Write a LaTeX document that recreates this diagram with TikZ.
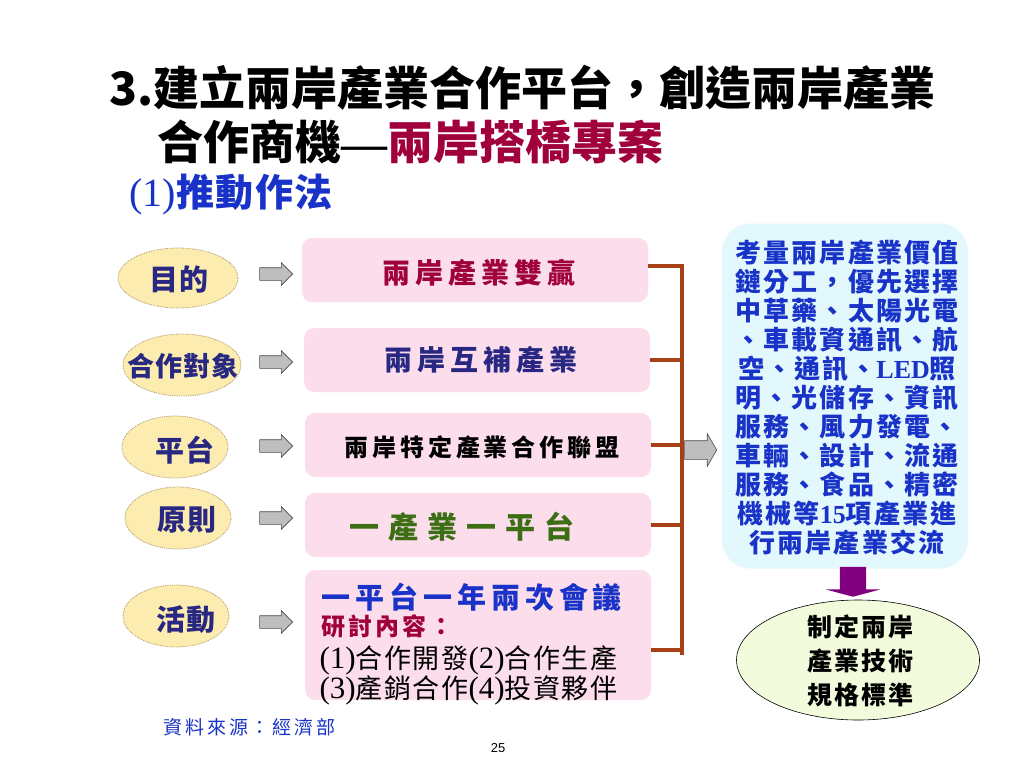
\documentclass[tikz,border=0pt]{standalone}
\usepackage{fontspec}
\usepackage{tikz}
\usetikzlibrary{shapes.geometric,shapes.arrows}
\newfontfamily\cjk{Noto Sans CJK TC}
\newfontfamily\lat{Liberation Serif}
\newfontfamily\pagefont{Liberation Sans}
\definecolor{titlered}{RGB}{160,0,60}
\definecolor{navytxt}{RGB}{40,40,130}
\definecolor{bluetxt}{RGB}{25,50,200}
\definecolor{greentxt}{RGB}{60,110,20}
\definecolor{pinkfill}{RGB}{252,221,236}
\definecolor{ovalfill}{RGB}{253,236,176}
\definecolor{ovalline}{RGB}{170,150,100}
\definecolor{cyanfill}{RGB}{226,248,252}
\definecolor{greenfill}{RGB}{242,252,220}
\definecolor{busbrown}{RGB}{165,65,20}
\definecolor{arrowgray}{RGB}{190,190,190}
\definecolor{purplearrow}{RGB}{128,0,128}

\begin{document}
\begin{tikzpicture}[x=1pt,y=-1pt,
    oval/.style={ellipse,draw=ovalline,densely dotted,line width=0.8pt,fill=ovalfill},
    ovaltext/.style={text=navytxt,font=\cjk\bfseries\fontsize{29}{30}\selectfont\addfontfeature{LetterSpace=2}},
    pinkbox/.style={rounded corners=10pt,fill=pinkfill,minimum width=346pt,minimum height=64pt,inner sep=0pt},
    grayarrow/.style={single arrow,draw=gray!60!black,fill=arrowgray,line width=0.6pt,inner sep=6pt,minimum height=33pt,single arrow head extend=5pt},
    busline/.style={draw=busbrown,line width=3.5pt}]
        \fill [white] (0,0) rectangle (1024,768);
        \useasboundingbox (0,0) rectangle (1024,768);

        % title
        \node [anchor=west,font=\cjk\bfseries\fontsize{46}{50}\selectfont] (title1) at(106,88) {3.建立兩岸產業合作平台，創造兩岸產業};
        \node [anchor=west,font=\cjk\bfseries\fontsize{46}{50}\selectfont] (title2) at(154,142) {合作商機{\lat —}\textcolor{titlered}{兩岸搭橋專案}};
        \node [anchor=west,text=bluetxt,font=\cjk\bfseries\fontsize{38}{40}\selectfont\addfontfeature{LetterSpace=4}] (title3) at(126,195) {{\lat\mdseries\fontsize{40}{40}\selectfont (1)}推動作法};

        % left ovals
        \node [oval,minimum width=120pt,minimum height=60pt] (aim) at(178,278) {};
        \node [oval,minimum width=118pt,minimum height=62pt] (partner) at(182,365) {};
        \node [oval,minimum width=106pt,minimum height=62pt] (platform) at(175,447) {};
        \node [oval,minimum width=106pt,minimum height=62pt] (rule) at(178,518) {};
        \node [oval,minimum width=106pt,minimum height=62pt] (event) at(176,616) {};
        \node [ovaltext] at(179,279) {目的};
        \node [ovaltext,font=\cjk\bfseries\fontsize{27}{30}\selectfont\addfontfeature{LetterSpace=3}] at(183,366) {合作對象};
        \node [ovaltext] at(185,450) {平台};
        \node [ovaltext] at(187,520) {原則};
        \node [ovaltext] at(186,620) {活動};

        % gray arrows
        \node [grayarrow] (a1) at(273,274) {};
        \node [grayarrow] (a2) at(273,362) {};
        \node [grayarrow] (a3) at(273,446) {};
        \node [grayarrow] (a4) at(273,518) {};
        \node [grayarrow] (a5) at(273,622) {};

        % pink boxes
        \node [pinkbox] (win) at(475,270) {};
        \node [pinkbox] (comp) at(477,360) {};
        \node [pinkbox] (alliance) at(478,445) {};
        \node [pinkbox] (one) at(478,525) {};
        \node [pinkbox,minimum height=130pt] (meet) at(478,635) {};
        \node [text=titlered,font=\cjk\bfseries\fontsize{28}{30}\selectfont\addfontfeature{LetterSpace=18}] at(479,273) {兩岸產業雙贏};
        \node [text=navytxt,font=\cjk\bfseries\fontsize{28}{30}\selectfont\addfontfeature{LetterSpace=18}] at(481,360) {兩岸互補產業};
        \node [font=\cjk\bfseries\fontsize{24}{30}\selectfont\addfontfeature{LetterSpace=16}] at(482,447) {兩岸特定產業合作聯盟};
        \node [text=greentxt,font=\cjk\bfseries\fontsize{30}{30}\selectfont\addfontfeature{LetterSpace=30}] at(462,527) {一產業一平台};
        \node [anchor=west,text=bluetxt,font=\cjk\bfseries\fontsize{29}{30}\selectfont\addfontfeature{LetterSpace=17}] (m1) at(318,597) {一平台一年兩次會議};
        \node [anchor=west,text=titlered,font=\cjk\bfseries\fontsize{24}{30}\selectfont\addfontfeature{LetterSpace=12}] (m2) at(318,626) {研討內容：};
        \node [anchor=west,font=\cjk\fontsize{27}{30}\selectfont\addfontfeature{LetterSpace=6}] (m3) at(316,660) {{\lat\fontsize{31}{30}\selectfont (1)}合作開發{\lat\fontsize{31}{30}\selectfont (2)}合作生產};
        \node [anchor=west,font=\cjk\fontsize{27}{30}\selectfont\addfontfeature{LetterSpace=6}] (m4) at(316,690) {{\lat\fontsize{31}{30}\selectfont (3)}產銷合作{\lat\fontsize{31}{30}\selectfont (4)}投資夥伴};

        % bracket
        \coordinate (bus) at(682,0);
        \draw [busline] (win.east |- 0,266) -- (bus |- 0,266);
        \draw [busline] (comp.east) -- (comp.east -| bus);
        \draw [busline] (alliance.east) -- (alliance.east -| bus);
        \draw [busline] (one.east) -- (one.east -| bus);
        \draw [busline] ([yshift=-15pt]meet.east) -- ([yshift=-15pt]meet.east -| bus);
        \draw [busline] (bus |- 0,264) -- (bus |- 0,655);

        % right side
        \node [rounded corners=28pt,fill=cyanfill,minimum width=246pt,minimum height=345pt] (info) at(845,396) {};
        \node [grayarrow,inner sep=9pt,minimum height=32pt,single arrow head extend=7pt,single arrow tip angle=120] (a6) at(698,450) {};
        \node [align=center,text=bluetxt,font=\cjk\bfseries\fontsize{26}{29}\selectfont\addfontfeature{LetterSpace=8}] at(847,398) {考量兩岸產業價值\\鏈分工，優先選擇\\中草藥、太陽光電\\、車載資通訊、航\\空、通訊、{\lat\bfseries LED}照\\明、光儲存、資訊\\服務、風力發電、\\車輛、設計、流通\\服務、食品、精密\\機械等{\lat\bfseries 15}項產業進\\行兩岸產業交流};
        \node [ellipse,draw=black,line width=0.6pt,fill=greenfill,minimum width=243pt,minimum height=120pt] (standard) at(858,660) {};
        \node [align=center,font=\cjk\bfseries\fontsize{25}{34}\selectfont\addfontfeature{LetterSpace=8}] at(860,661) {制定兩岸\\產業技術\\規格標準};
        \node [single arrow,shape border rotate=270,fill=purplearrow,inner sep=13pt,minimum height=26pt,single arrow head extend=14pt,single arrow tip angle=150] (down) at(853,580) {};

        % footer
        \node [anchor=west,text=bluetxt,font=\cjk\fontsize{19}{20}\selectfont\addfontfeature{LetterSpace=15}] (src) at(160,727) {資料來源：經濟部};
        \node [font=\pagefont\fontsize{13}{15}\selectfont] (page) at(498,748) {25};
    \end{tikzpicture}
\end{document}
